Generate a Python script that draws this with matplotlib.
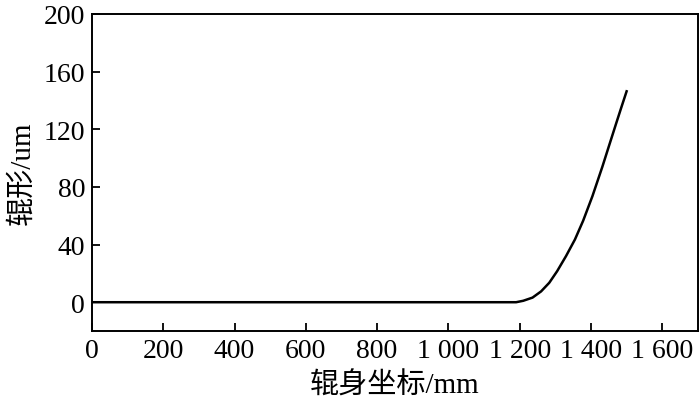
import matplotlib
matplotlib.use('Agg')
import matplotlib.pyplot as plt

plt.rcParams['font.family'] = ['Liberation Serif', 'Noto Sans CJK SC']

# 辊身坐标 (mm) 与 辊形 (um)
x_mm = [0, 1190, 1210, 1236, 1260, 1283, 1305, 1330, 1355, 1378, 1404, 1432, 1450, 1470, 1485, 1500]
y_um = [0, 0, 1.0, 3.2, 7.5, 13.5, 21.5, 32, 43.5, 56.5, 73.5, 94, 108, 123.5, 135, 146.3]

x_ticks = [0, 200, 400, 600, 800, 1000, 1200, 1400, 1600]
x_labels = ['0', '200', '400', '600', '800', '1 000', '1 200', '1 400', '1 600']
y_ticks = [0, 40, 80, 120, 160, 200]

fig = plt.figure(figsize=(7, 4.02), dpi=100)
ax = fig.add_axes([0.1314, 0.174, 0.8656, 0.789])
ax.plot(x_mm, y_um, color='black', linewidth=1.8)

ax.set_xlim(0, 1700)
ax.set_ylim(-20, 200)
ax.set_xticks(x_ticks)
ax.set_xticklabels(x_labels)
ax.set_yticks(y_ticks)
ax.tick_params(direction='in', length=6, width=1.3, labelsize=20, pad=5)
for s in ax.spines.values():
    s.set_linewidth(1.4)

ax.set_xlabel('辊身坐标/mm', fontsize=21, labelpad=6)
ax.set_ylabel('辊形/um', fontsize=21, labelpad=6)

fig.savefig('out.png', dpi=100)
